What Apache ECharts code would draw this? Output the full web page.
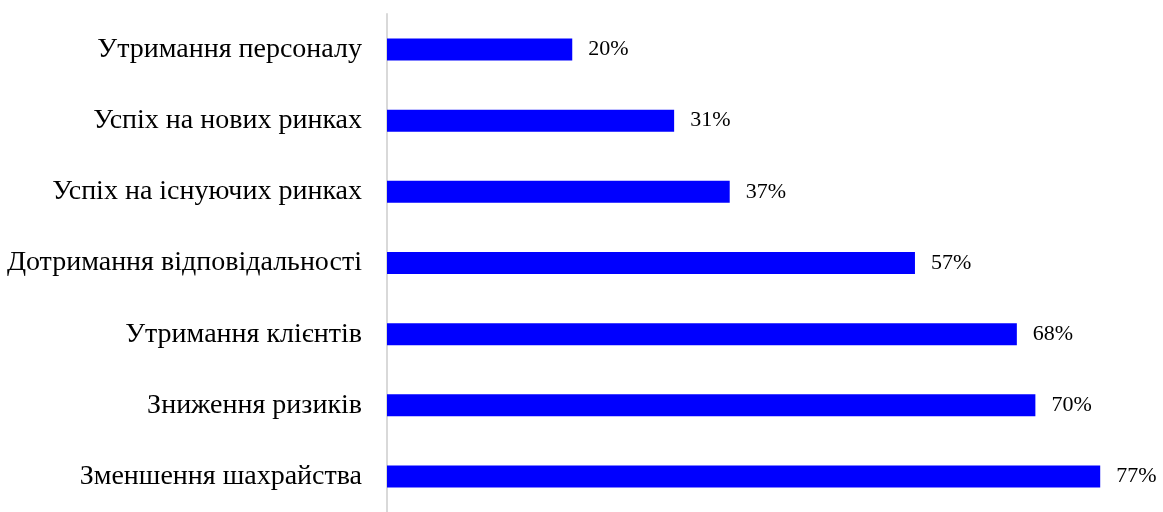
<!DOCTYPE html>
<html>
<head>
<meta charset="utf-8">
<script src="https://cdn.jsdelivr.net/npm/echarts@6/dist/echarts.min.js"></script>
<style>
html,body{margin:0;padding:0;background:#fff;}
#chart{width:1163px;height:512px;}
</style>
</head>
<body>
<div id="chart"></div>
<script>
const categories = [
  'Утримання персоналу',
  'Успіх на нових ринках',
  'Успіх на існуючих ринках',
  'Дотримання відповідальності',
  'Утримання клієнтів',
  'Зниження ризиків',
  'Зменшення шахрайства'
];
const values = [20, 31, 37, 57, 68, 70, 77];

const chart = echarts.init(document.getElementById('chart'), null, {renderer: 'canvas'});
chart.setOption({
  animation: false,
  backgroundColor: '#ffffff',
  textStyle: {fontFamily: '"Liberation Serif", "Times New Roman", serif'},
  grid: {left: 387, top: 14, width: 741, height: 504, containLabel: false},
  xAxis: {
    type: 'value', min: 0, max: 80, show: false
  },
  yAxis: {
    type: 'category', data: categories, inverse: true,
    axisLine: {show: true, lineStyle: {color: '#d9d9d9', width: 2}},
    axisTick: {show: false},
    axisLabel: {color: '#000', fontSize: 28, margin: 25, fontFamily: '"Liberation Serif", "Times New Roman", serif'},
    splitLine: {show: false}
  },
  series: [{
    type: 'bar', data: values, barWidth: 22,
    itemStyle: {color: '#0000ff'},
    label: {show: true, position: 'right', distance: 16, formatter: '{c}%', color: '#000', fontSize: 22,
      fontFamily: '"Liberation Serif", "Times New Roman", serif'}
  }]
});
</script>
</body>
</html>
